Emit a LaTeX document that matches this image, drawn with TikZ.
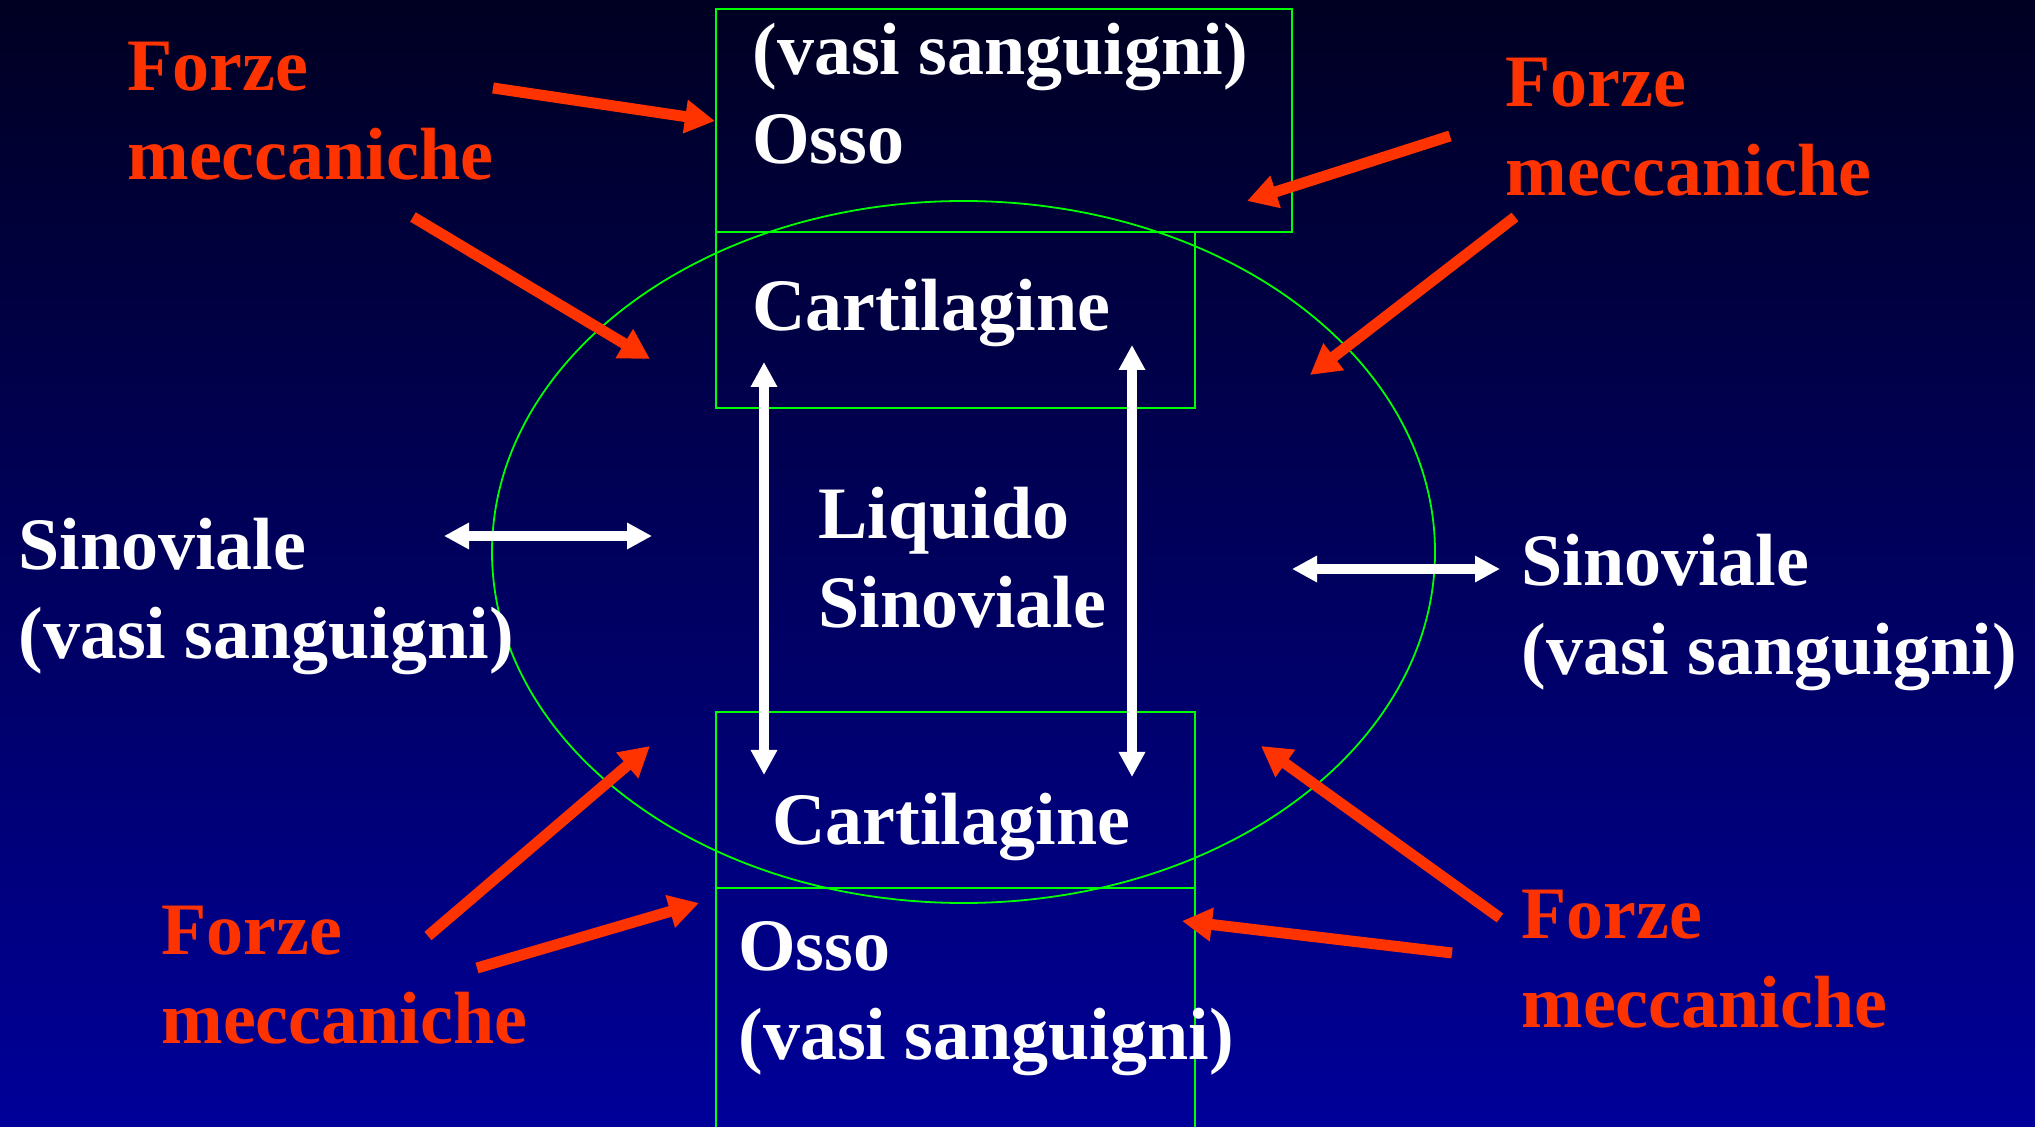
\documentclass[tikz,border=0pt]{standalone}
\usepackage{fontspec}
\setmainfont{Liberation Serif}
\usetikzlibrary{arrows.meta}
\definecolor{bgtop}{RGB}{0,0,34}
\definecolor{bgbot}{RGB}{0,0,153}
\definecolor{forcered}{RGB}{255,51,0}
\definecolor{boxgreen}{RGB}{0,255,0}
\tikzset{
  lbl/.style={anchor=base west, inner sep=0pt, align=left, text=white,
    font=\fontsize{37}{44.5}\selectfont\bfseries},
  redlbl/.style={lbl, text=forcered},
  boxline/.style={draw=boxgreen, line width=1pt},
  forcearrow/.style={draw=forcered, line width=5.5pt, -{Triangle[length=15pt,width=16pt]}},
  exarrow/.style={draw=white, line width=4.8pt,
    {Triangle[length=12.5pt,width=12.5pt]}-{Triangle[length=12.5pt,width=12.5pt]}},
}
\begin{document}
\begin{tikzpicture}[x=0.5pt,y=-0.5pt]
\useasboundingbox (0,0) rectangle (2035,1127);
\shade[top color=bgtop, bottom color=bgbot] (0,0) rectangle (2035,1127);

% joint capsule
\draw[draw=boxgreen, line width=0.9pt] (963.5,552) ellipse [x radius=471.5, y radius=351];

% boxes
\draw[boxline, line width=1.4pt] (716,9) rectangle (1292,232);
\draw[boxline] (716,232) rectangle (1195,408);
\draw[boxline] (716,712) rectangle (1195,888);
\draw[boxline] (716,1127) -- (716,888) -- (1195,888) -- (1195,1127);

% texts (anchor = baseline of the last line)
\node[lbl] (ossoT) at (752,164) {(vasi sanguigni)\\Osso};
\node[lbl] (cartT) at (752,331) {Cartilagine};
\node[lbl] (liq) at (818,628) {Liquido\\Sinoviale};
\node[lbl] (cartB) at (772,845) {Cartilagine};
\node[lbl] (ossoB) at (738,1059) {Osso\\(vasi sanguigni)};
\node[lbl] (sinL) at (18,659) {Sinoviale\\(vasi sanguigni)};
\node[lbl] (sinR) at (1521,675) {Sinoviale\\(vasi sanguigni)};
\node[redlbl] (fTL) at (127,180) {Forze\\meccaniche};
\node[redlbl] (fTR) at (1505,196) {Forze\\meccaniche};
\node[redlbl] (fBL) at (161,1043) {Forze\\meccaniche};
\node[redlbl] (fBR) at (1521,1027) {Forze\\meccaniche};

% arrow end points
\coordinate (a1s) at (493,88);   \coordinate (a1e) at (715,121);
\coordinate (a2s) at (413,217);  \coordinate (a2e) at (650,359);
\coordinate (a3s) at (1450,136); \coordinate (a3e) at (1247,201);
\coordinate (a4s) at (1515,217); \coordinate (a4e) at (1310,375);
\coordinate (a5s) at (428,936);  \coordinate (a5e) at (650,746);
\coordinate (a6s) at (477,968);  \coordinate (a6e) at (699,903);
\coordinate (a7s) at (1500,918); \coordinate (a7e) at (1261,746);
\coordinate (a8s) at (1452,953); \coordinate (a8e) at (1182,921);
\coordinate (v1t) at (764,362);  \coordinate (v1b) at (764,775);
\coordinate (v2t) at (1132,345); \coordinate (v2b) at (1132,777);
\coordinate (h1l) at (444,536);  \coordinate (h1r) at (652,536);
\coordinate (h2l) at (1292,569); \coordinate (h2r) at (1500,569);

% exchange arrows
\draw[exarrow] (v1t) -- (v1b);
\draw[exarrow] (v2t) -- (v2b);
\draw[exarrow] (h1l) -- (h1r);
\draw[exarrow] (h2l) -- (h2r);

% mechanical forces
\draw[forcearrow] (a1s) -- (a1e);
\draw[forcearrow] (a2s) -- (a2e);
\draw[forcearrow] (a3s) -- (a3e);
\draw[forcearrow] (a4s) -- (a4e);
\draw[forcearrow] (a5s) -- (a5e);
\draw[forcearrow] (a6s) -- (a6e);
\draw[forcearrow] (a7s) -- (a7e);
\draw[forcearrow] (a8s) -- (a8e);
\end{tikzpicture}
\end{document}
